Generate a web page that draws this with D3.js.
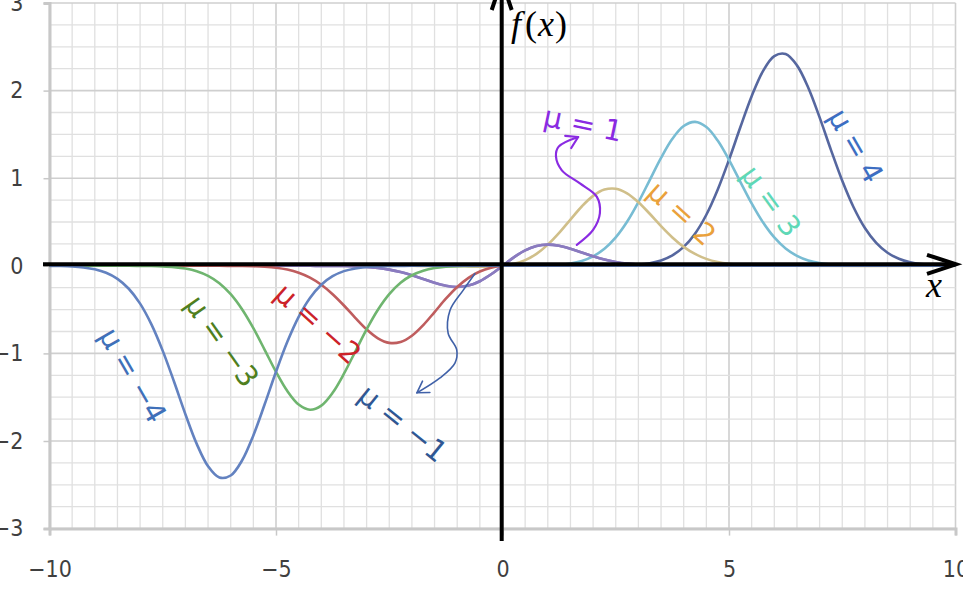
<!DOCTYPE html>
<html>
<head>
<meta charset="utf-8">
<script src="https://cdn.jsdelivr.net/npm/d3@7"></script>
<style>
  html, body { margin: 0; padding: 0; background: #ffffff; overflow: hidden; }
  svg { display: block; }
</style>
</head>
<body>
<svg id="chart" width="963" height="595"></svg>
<script>
// ---- data ----
const xTicks = [-10, -5, 0, 5, 10];
const yTicks = [-3, -2, -1, 0, 1, 2, 3];

const muLabels = ["μ = 4", "μ = 3", "μ = 2", "μ = 1", "μ = −1", "μ = −2", "μ = −3", "μ = −4"];

const seriesMu4 = [[-10,0],[1.5,0],[1.75,0],[2,0],[2.25,0.001],[2.5,0.002],[2.75,0.006],[3,0.013],[3.25,0.030],[3.5,0.061],[3.75,0.119],[4,0.216],[4.25,0.367],[4.5,0.583],[4.75,0.868],[5,1.210],[5.25,1.581],[5.5,1.936],[5.75,2.223],[6,2.394],[6.25,2.417],[6.5,2.288],[6.75,2.033],[7,1.694],[7.25,1.324],[7.5,0.971],[7.75,0.669],[8,0.432],[8.25,0.262],[8.5,0.149],[8.75,0.080],[9,0.040],[9.25,0.019],[9.5,0.008],[9.75,0.003],[10,0.001]];
const seriesMu3 = [[-10,0],[0,0],[0.25,0],[0.5,0],[0.75,0.002],[1,0.004],[1.25,0.011],[1.5,0.026],[1.75,0.056],[2,0.108],[2.25,0.194],[2.5,0.324],[2.75,0.502],[3,0.726],[3.25,0.979],[3.5,1.232],[3.75,1.450],[4,1.596],[4.25,1.643],[4.5,1.584],[4.75,1.430],[5,1.210],[5.25,0.959],[5.5,0.712],[5.75,0.496],[6,0.324],[6.25,0.198],[6.5,0.114],[6.75,0.061],[7,0.031],[7.25,0.015],[7.5,0.007],[7.75,0.003],[8,0.001],[8.25,0],[10,0]];
const seriesMu2 = [[-10,0],[-2.5,0],[-2.25,0],[-2,0],[-1.75,-0.001],[-1.5,-0.001],[-1.25,-0.003],[-1,-0.004],[-0.75,-0.007],[-0.5,-0.009],[-0.25,-0.008],[0,0],[0.25,0.022],[0.5,0.065],[0.75,0.137],[1,0.242],[1.25,0.376],[1.5,0.528],[1.75,0.677],[2,0.798],[2.25,0.870],[2.5,0.880],[2.75,0.828],[3,0.726],[3.25,0.594],[3.5,0.453],[3.75,0.324],[4,0.216],[4.25,0.135],[4.5,0.079],[4.75,0.043],[5,0.022],[5.25,0.011],[5.5,0.005],[5.75,0.002],[6,0.001],[6.25,0],[10,0]];
const seriesMu1 = [[-10,0],[-4.5,0],[-4.25,0],[-4,-0.001],[-3.75,-0.001],[-3.5,-0.003],[-3.25,-0.007],[-3,-0.013],[-2.75,-0.025],[-2.5,-0.044],[-2.25,-0.071],[-2,-0.108],[-1.75,-0.151],[-1.5,-0.194],[-1.25,-0.228],[-1,-0.242],[-0.75,-0.226],[-0.5,-0.176],[-0.25,-0.097],[0,0],[0.25,0.097],[0.5,0.176],[0.75,0.226],[1,0.242],[1.25,0.228],[1.5,0.194],[1.75,0.151],[2,0.108],[2.25,0.071],[2.5,0.044],[2.75,0.025],[3,0.013],[3.25,0.007],[3.5,0.003],[3.75,0.001],[4,0.001],[4.25,0],[4.5,0],[10,0]];
const seriesMuM1 = [[-10,0],[-4.5,0],[-4.25,0],[-4,-0.001],[-3.75,-0.001],[-3.5,-0.003],[-3.25,-0.007],[-3,-0.013],[-2.75,-0.025],[-2.5,-0.044],[-2.25,-0.071],[-2,-0.108],[-1.75,-0.151],[-1.5,-0.194],[-1.25,-0.228],[-1,-0.242],[-0.75,-0.226],[-0.5,-0.176],[-0.25,-0.097],[0,0],[0.25,0.097],[0.5,0.176],[0.75,0.226],[1,0.242],[1.25,0.228],[1.5,0.194],[1.75,0.151],[2,0.108],[2.25,0.071],[2.5,0.044],[2.75,0.025],[3,0.013],[3.25,0.007],[3.5,0.003],[3.75,0.001],[4,0.001],[4.25,0],[4.5,0],[10,0]];
const seriesMuM2 = [[-10,0],[-6.25,0],[-6,-0.001],[-5.75,-0.002],[-5.5,-0.005],[-5.25,-0.011],[-5,-0.022],[-4.75,-0.043],[-4.5,-0.079],[-4.25,-0.135],[-4,-0.216],[-3.75,-0.324],[-3.5,-0.453],[-3.25,-0.594],[-3,-0.726],[-2.75,-0.828],[-2.5,-0.880],[-2.25,-0.870],[-2,-0.798],[-1.75,-0.677],[-1.5,-0.528],[-1.25,-0.376],[-1,-0.242],[-0.75,-0.137],[-0.5,-0.065],[-0.25,-0.022],[0,0],[0.25,0.008],[0.5,0.009],[0.75,0.007],[1,0.004],[1.25,0.003],[1.5,0.001],[1.75,0.001],[2,0],[2.5,0],[10,0]];
const seriesMuM3 = [[-10,0],[-8.25,0],[-8,-0.001],[-7.75,-0.003],[-7.5,-0.007],[-7.25,-0.015],[-7,-0.031],[-6.75,-0.061],[-6.5,-0.114],[-6.25,-0.198],[-6,-0.324],[-5.75,-0.496],[-5.5,-0.712],[-5.25,-0.959],[-5,-1.210],[-4.75,-1.430],[-4.5,-1.584],[-4.25,-1.643],[-4,-1.596],[-3.75,-1.450],[-3.5,-1.232],[-3.25,-0.979],[-3,-0.726],[-2.75,-0.502],[-2.5,-0.324],[-2.25,-0.194],[-2,-0.108],[-1.75,-0.056],[-1.5,-0.026],[-1.25,-0.011],[-1,-0.004],[-0.75,-0.002],[-0.5,0],[0,0],[10,0]];
const seriesMuM4 = [[-10,-0.001],[-9.75,-0.003],[-9.5,-0.008],[-9.25,-0.019],[-9,-0.040],[-8.75,-0.080],[-8.5,-0.149],[-8.25,-0.262],[-8,-0.432],[-7.75,-0.669],[-7.5,-0.971],[-7.25,-1.324],[-7,-1.694],[-6.75,-2.033],[-6.5,-2.288],[-6.25,-2.417],[-6,-2.394],[-5.75,-2.223],[-5.5,-1.936],[-5.25,-1.581],[-5,-1.210],[-4.75,-0.868],[-4.5,-0.583],[-4.25,-0.367],[-4,-0.216],[-3.75,-0.119],[-3.5,-0.061],[-3.25,-0.030],[-3,-0.013],[-2.75,-0.006],[-2.5,-0.002],[-2.25,-0.001],[-2,0],[-1.5,0],[10,0]];

// label anchors (data units) and rotation angles
const labelPos = [[7.80,1.37],[5.93,0.74],[3.96,0.60],[1.78,1.62],[-2.20,-1.80],[-4.07,-0.66],[-6.19,-0.86],[-8.16,-1.25]];
const labelAngle = [60, 54, 42, 12, 39, 42, 55, 60];

// curly annotation arrows (data units)
const arrowMu1 = [[1.64,0.24],[2.00,0.41],[2.15,0.60],[2.08,0.79],[1.71,0.94],[1.31,1.09],[1.18,1.25],[1.24,1.36],[1.67,1.47]];
const arrowMuM1 = [[-0.61,-0.09],[-0.87,-0.28],[-1.16,-0.51],[-1.20,-0.77],[-1.01,-0.96],[-1.05,-1.11],[-1.38,-1.28],[-1.89,-1.45]];

// ---- styles ----
const curveColors = ["#56679f", "#78bcd3", "#d0bf8a", "#8a7bbf", "#8a7bbf", "#bf5d5e", "#6fb56f", "#6382c0"];
const labelColors = ["#3d6ec2", "#5fd8b6", "#eaa13b", "#8a2be2", "#2f5793", "#cc2229", "#4f7f20", "#3f70b9"];

const svg = d3.select("#chart");
const x = d3.scaleLinear().domain([-10, 10]).range([49.5, 955.5]);
const y = d3.scaleLinear().domain([-3, 3]).range([528.6, 3]);

// grid
const grid = svg.append("g");
const vMinor = d3.range(-10, 10.001, 0.5);
const hMinor = d3.range(-3, 3.001, 0.25);
grid.selectAll("line.v").data(vMinor).join("line")
  .attr("x1", d => x(d)).attr("x2", d => x(d))
  .attr("y1", y(3)).attr("y2", y(-3))
  .attr("stroke", d => (Math.abs(d % 5) < 1e-9) ? "#cfcfcf" : "#e0e0e0")
  .attr("stroke-width", d => (Math.abs(d % 5) < 1e-9) ? 1.6 : 1.3);
grid.selectAll("line.h").data(hMinor).join("line")
  .attr("x1", x(-10)).attr("x2", x(10))
  .attr("y1", d => y(d)).attr("y2", d => y(d))
  .attr("stroke", d => (Math.abs(d % 1) < 1e-9) ? "#cfcfcf" : "#e0e0e0")
  .attr("stroke-width", d => (Math.abs(d % 1) < 1e-9) ? 1.6 : 1.3);

// axes with tick labels
const fmt = d => (d < 0 ? "\u2212" + Math.abs(d) : "" + d);
const gy = svg.append("g").attr("transform", `translate(${x(-10)},0)`)
  .call(d3.axisLeft(y).tickValues(yTicks).tickSize(6).tickPadding(20).tickFormat(fmt));
const gx = svg.append("g").attr("transform", `translate(0,${y(-3)})`)
  .call(d3.axisBottom(x).tickValues(xTicks).tickSize(7).tickPadding(25).tickFormat(fmt));
[gx, gy].forEach(g => {
  g.select(".domain").attr("stroke", "#c8c8c8").attr("stroke-width", 3);
  g.selectAll(".tick line").attr("stroke", "#c8c8c8").attr("stroke-width", 1.5);
  g.selectAll(".tick text")
    .attr("fill", "#3f3f3f")
    .style("font-family", "'DejaVu Sans Condensed', 'DejaVu Sans', sans-serif")
    .style("font-stretch", "condensed")
    .style("font-size", "23px");
});

// curves
const allSeries = [seriesMu4, seriesMu3, seriesMu2, seriesMu1, seriesMuM1, seriesMuM2, seriesMuM3, seriesMuM4];
const line = d3.line().x(d => x(d[0])).y(d => y(d[1])).curve(d3.curveCatmullRom.alpha(0.5));
svg.append("g").selectAll("path").data(allSeries).join("path")
  .attr("d", line)
  .attr("fill", "none")
  .attr("stroke", (d, i) => curveColors[i])
  .attr("stroke-width", 2.6)
  .attr("stroke-linejoin", "round");

// main black axes with arrows
const ax = svg.append("g").attr("stroke", "#000").attr("fill", "none")
  .attr("stroke-width", 4).attr("stroke-linecap", "butt");
const y0 = y(0) - 1.5, x0 = x(0) - 0.8;
ax.append("line").attr("x1", 43).attr("x2", 955).attr("y1", y0).attr("y2", y0);
ax.append("line").attr("x1", x0).attr("x2", x0).attr("y1", -20).attr("y2", 541);
ax.append("path").attr("d", `M${927},${y0 - 9.5} L${956},${y0} L${927},${y0 + 9.5}`).attr("stroke-linejoin", "miter");
ax.append("path").attr("d", `M${x0 - 10},${10} L${x0},${-20} L${x0 + 10},${10}`).attr("stroke-linejoin", "miter");

// axis titles
const fx = svg.append("text").attr("x", 511).attr("y", 36)
  .style("font-family", "'Liberation Serif', 'DejaVu Serif', serif")
  .style("font-size", "36px").style("letter-spacing", "1px").attr("fill", "#000");
fx.append("tspan").style("font-style", "italic").text("f");
fx.append("tspan").attr("dx", 3).text("(");
fx.append("tspan").style("font-style", "italic").text("x");
fx.append("tspan").text(")");
svg.append("text").attr("x", 926).attr("y", 297)
  .style("font-family", "'Liberation Serif', 'DejaVu Serif', serif")
  .style("font-style", "italic").style("font-size", "36px").attr("fill", "#000")
  .text("x");

// annotation arrows
function drawArrow(pts, color, width) {
  const p = pts.map(d => [x(d[0]), y(d[1])]);
  svg.append("path")
    .attr("d", d3.line().curve(d3.curveCatmullRom.alpha(0.5))(p))
    .attr("fill", "none").attr("stroke", color).attr("stroke-width", width)
    .attr("stroke-linecap", "round");
  const a = p[p.length - 1], b = p[p.length - 2];
  const ang = Math.atan2(a[1] - b[1], a[0] - b[0]);
  const L = 13, spread = 0.55;
  const l1 = [a[0] - L * Math.cos(ang - spread), a[1] - L * Math.sin(ang - spread)];
  const l2 = [a[0] - L * Math.cos(ang + spread), a[1] - L * Math.sin(ang + spread)];
  svg.append("path")
    .attr("d", `M${l1[0]},${l1[1]} L${a[0]},${a[1]} L${l2[0]},${l2[1]}`)
    .attr("fill", "none").attr("stroke", color).attr("stroke-width", width)
    .attr("stroke-linecap", "round").attr("stroke-linejoin", "round");
}
drawArrow(arrowMu1, "#8a2be2", 2.2);
drawArrow(arrowMuM1, "#4061a8", 1.6);

// curve labels
svg.append("g").selectAll("text").data(muLabels).join("text")
  .attr("transform", (d, i) => `translate(${x(labelPos[i][0])},${y(labelPos[i][1])}) rotate(${labelAngle[i]})`)
  .attr("text-anchor", "middle")
  .attr("dominant-baseline", "central")
  .attr("fill", (d, i) => labelColors[i])
  .style("font-family", "'DejaVu Sans', sans-serif")
  .style("font-size", "29px")
  .text(d => d);
</script>
</body>
</html>
